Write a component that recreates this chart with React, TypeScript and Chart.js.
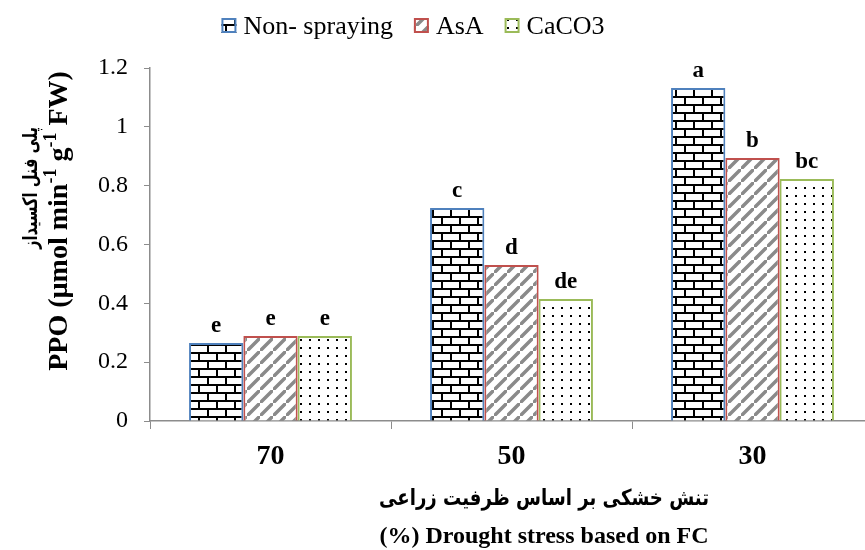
import React, { useEffect, useRef } from "react";
import { Chart, registerables } from "chart.js";

Chart.register(...registerables);

const categories = ["70", "50", "30"];
const seriesNames = ["Non- spraying", "AsA", "CaCO3"];
const nonSpraying = [0.265, 0.724, 1.132];
const asa = [0.289, 0.53, 0.894];
const caco3 = [0.289, 0.415, 0.823];
const lettersNon = ["e", "c", "a"];
const lettersAsa = ["e", "d", "b"];
const lettersCaco3 = ["e", "de", "bc"];
const yTicks = [0, 0.2, 0.4, 0.6, 0.8, 1, 1.2];
const yTitlePersian = "پلی فنل اکسیداز";
const xTitlePersian = "تنش خشکی بر اساس ظرفیت زراعی";
const xTitleEnglish = "(%) Drought stress based on FC";

const SERIF = "'Liberation Serif', 'Times New Roman', 'DejaVu Serif', serif";
const PERSIAN = "'DejaVu Sans', 'Noto Sans', sans-serif";

function makeTile(w: number, h: number, draw: (c: CanvasRenderingContext2D) => void) {
  const cv = document.createElement("canvas");
  cv.width = w;
  cv.height = h;
  const c = cv.getContext("2d")!;
  c.fillStyle = "#ffffff";
  c.fillRect(0, 0, w, h);
  draw(c);
  return c.createPattern(cv, "repeat")!;
}

function brickPattern() {
  return makeTile(18, 16, (c) => {
    c.fillStyle = "#000";
    c.fillRect(0, 0, 18, 2);
    c.fillRect(0, 8, 18, 2);
    c.fillRect(0, 0, 2, 8);
    c.fillRect(9, 8, 2, 8);
  });
}

function diagPattern() {
  return makeTile(13, 13, (c) => {
    c.strokeStyle = "#8a8a8a";
    c.lineWidth = 3.5;
    c.beginPath();
    c.moveTo(-2, 15);
    c.lineTo(15, -2);
    c.moveTo(-8, 2);
    c.lineTo(2, -8);
    c.moveTo(11, 21);
    c.lineTo(21, 11);
    c.stroke();
  });
}

function dotPattern() {
  return makeTile(9, 8, (c) => {
    c.fillStyle = "#000";
    c.fillRect(3, 3, 2, 2);
  });
}

function fitText(ctx: CanvasRenderingContext2D, text: string, cx: number, cy: number, target: number) {
  const w = ctx.measureText(text).width;
  const s = Math.min(1, target / w);
  ctx.save();
  ctx.translate(cx, cy);
  ctx.scale(s, 1);
  ctx.fillText(text, 0, 0);
  ctx.restore();
}

const textPlugin = {
  id: "textPlugin",
  afterDatasetsDraw(chart: any) {
    const ctx = chart.ctx as CanvasRenderingContext2D;
    const letterSets = [lettersNon, lettersAsa, lettersCaco3];
    ctx.save();
    ctx.fillStyle = "#000";
    ctx.font = `bold 23px ${SERIF}`;
    ctx.textAlign = "center";
    ctx.textBaseline = "alphabetic";
    chart.data.datasets.forEach((ds: any, di: number) => {
      const meta = chart.getDatasetMeta(di);
      meta.data.forEach((bar: any, i: number) => {
        ctx.fillText(letterSets[di][i], bar.x, bar.y - 11);
      });
    });
    ctx.restore();
  },
  afterDraw(chart: any) {
    const ctx = chart.ctx as CanvasRenderingContext2D;
    ctx.save();
    ctx.fillStyle = "#000";
    ctx.textBaseline = "middle";

    // legend
    ctx.font = `26px ${SERIF}`;
    const ds = chart.data.datasets;
    const box = 15, gapBox = 7, gapItem = 21;
    const widths = ds.map((d: any) => ctx.measureText(d.label).width);
    const total = widths.reduce((a: number, w: number) => a + box + gapBox + w, 0) + gapItem * (ds.length - 1);
    let lx = 413 - total / 2;
    ds.forEach((d: any, i: number) => {
      ctx.fillStyle = d.backgroundColor;
      ctx.fillRect(lx, 18, box, box);
      ctx.strokeStyle = d.borderColor;
      ctx.lineWidth = 2;
      ctx.strokeRect(lx + 1, 19, box - 2, box - 2);
      ctx.fillStyle = "#000";
      ctx.textAlign = "left";
      ctx.fillText(d.label, lx + box + gapBox, 27);
      lx += box + gapBox + widths[i] + gapItem;
    });

    // x title
    ctx.textAlign = "center";
    ctx.font = `bold 22px ${PERSIAN}`;
    fitText(ctx, xTitlePersian, 544, 499, 330);
    ctx.font = `bold 24px ${SERIF}`;
    ctx.fillText(xTitleEnglish, 544, 537);

    // y title
    ctx.save();
    ctx.translate(32, 188);
    ctx.rotate(-Math.PI / 2);
    ctx.font = `bold 20px ${PERSIAN}`;
    fitText(ctx, yTitlePersian, 0, 0, 122);
    ctx.restore();
    ctx.save();
    ctx.translate(60, 221);
    ctx.rotate(-Math.PI / 2);
    const parts: [string, boolean][] = [
      ["PPO (µmol min", false],
      ["-1", true],
      [" g", false],
      ["-1", true],
      [" FW)", false],
    ];
    const big = `bold 28px ${SERIF}`;
    const small = `bold 18px ${SERIF}`;
    let tw = 0;
    parts.forEach(([t, sup]) => {
      ctx.font = sup ? small : big;
      tw += ctx.measureText(t).width;
    });
    let x = -tw / 2;
    ctx.textAlign = "left";
    parts.forEach(([t, sup]) => {
      ctx.font = sup ? small : big;
      ctx.fillText(t, x, sup ? -9 : 0);
      x += ctx.measureText(t).width;
    });
    ctx.restore();
    ctx.restore();
  },
};

export default function App() {
  const ref = useRef<HTMLCanvasElement>(null);
  useEffect(() => {
    document.body.style.margin = "0";
    const chart = new Chart(ref.current!, {
      type: "bar",
      data: {
        labels: categories,
        datasets: [
          { label: seriesNames[0], data: nonSpraying, backgroundColor: brickPattern(), borderColor: "#4f81bd", borderWidth: 2 },
          { label: seriesNames[1], data: asa, backgroundColor: diagPattern(), borderColor: "#c0504d", borderWidth: 2 },
          { label: seriesNames[2], data: caco3, backgroundColor: dotPattern(), borderColor: "#9bbb59", borderWidth: 2 },
        ] as any,
      },
      options: {
        animation: false,
        responsive: false,
        maintainAspectRatio: false,
        layout: { padding: { left: 0, right: 7, top: 68, bottom: 0 } },
        datasets: { bar: { categoryPercentage: 0.676, barPercentage: 1 } } as any,
        plugins: {
          legend: { display: false },
          tooltip: { enabled: false },
        },
        scales: {
          x: {
            grid: { drawOnChartArea: false, drawTicks: true, tickLength: 8, color: "#8c8c8c", offset: true },
            border: { color: "#8c8c8c", width: 1.5 },
            ticks: { color: "#000", font: { family: SERIF, size: 28, weight: "bold" }, padding: 11 },
            afterFit: (s: any) => { s.height = 129; },
          },
          y: {
            min: 0,
            max: 1.2,
            afterBuildTicks: (s: any) => { s.ticks = yTicks.map((v) => ({ value: v })); },
            grid: { drawOnChartArea: false, drawTicks: true, tickLength: 6, color: "#8c8c8c" },
            border: { color: "#8c8c8c", width: 1.5 },
            ticks: {
              color: "#000",
              font: { family: SERIF, size: 24 },
              padding: 16,
              callback: (v: any) => String(Math.round(Number(v) * 10) / 10),
            },
            afterFit: (s: any) => { s.width = 150; },
          },
        },
      },
      plugins: [textPlugin],
    });
    return () => chart.destroy();
  }, []);
  return (
    <div style={{ width: 865, height: 550, overflow: "hidden" }}>
      <canvas ref={ref} width={880} height={550} style={{ display: "block" }} />
    </div>
  );
}
